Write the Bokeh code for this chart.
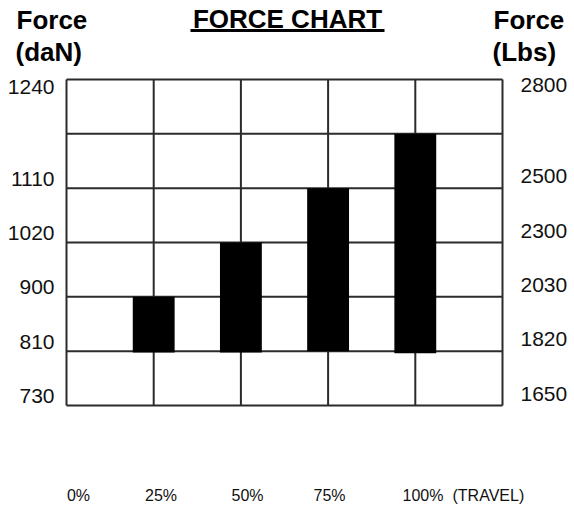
import numpy as np
from bokeh.plotting import figure
from bokeh.models import Range1d
from bokeh.core.properties import value
from bokeh.embed import file_html
from bokeh.resources import INLINE

# ---- data ----
daN_levels = [730, 810, 900, 1020, 1110, 1175, 1240]
daN_labels = ["730", "810", "900", "1020", "1110", "", "1240"]
lbs_labels = ["1650", "1820", "2030", "2300", "2500", "", "2800"]
travel_grid = [0, 25, 50, 75, 100, 125]
travel = [25, 50, 75, 100]
force_top = [900, 1020, 1110, 1175]
force_bottom = [808, 808, 810, 807]
travel_labels = ["0%", "25%", "50%", "75%"]

FONT = "Liberation Sans"
W, H = 574, 505
GL, GT, GR, GB = 66, 79, 502, 405  # grid box in page px
NL = len(daN_levels) - 1
K = NL / (GB - GT)  # levels per pixel


def X(px):
    return (px - GL) / (GR - GL) * travel_grid[-1]


def Y(py):
    return (GB - py) * K


p = figure(width=W, height=H, output_backend="svg", toolbar_location=None,
           x_axis_type=None, y_axis_type=None,
           x_range=Range1d(X(0), X(W)), y_range=Range1d(Y(H), Y(0)),
           min_border=0, min_border_left=0, min_border_right=0,
           min_border_top=0, min_border_bottom=0,
           outline_line_color=None,
           background_fill_color="white", border_fill_color="white")

GRID_C = "#2b2b2b"
# vertical grid lines
p.segment(x0=travel_grid, x1=travel_grid, y0=[0] * len(travel_grid), y1=[NL] * len(travel_grid),
          line_color=GRID_C, line_width=2)
# horizontal grid lines
lv = list(range(NL + 1))
p.segment(x0=[travel_grid[0]] * len(lv), x1=[travel_grid[-1]] * len(lv), y0=lv, y1=lv,
          line_color=GRID_C, line_width=2)

# bars
lvl = np.arange(len(daN_levels))
tops = np.interp(force_top, daN_levels, lvl)
bottoms = np.interp(force_bottom, daN_levels, lvl)
p.vbar(x=travel, width=12, top=tops, bottom=bottoms,
       fill_color="black", line_color=None)

# tick labels
ly, lt, ry, rt = [], [], [], []
for i, (a, b) in enumerate(zip(daN_labels, lbs_labels)):
    if not a:
        continue
    top = (i == NL)
    ly.append(i + (-7.5 if top else 9.5) * K)
    lt.append(a)
    ry.append(i + (-5.5 if top else 12) * K)
    rt.append(b)
p.text(x=[X(54)] * len(ly), y=ly, text=lt, text_align="right", text_baseline="middle",
       text_font=value(FONT), text_font_size=value("21px"), text_color="#111")
p.text(x=[X(520)] * len(ry), y=ry, text=rt, text_align="left", text_baseline="middle",
       text_font=value(FONT), text_font_size=value("21px"), text_color="#111")

# headers
p.text(x=[X(16), X(15), X(493), X(492)], y=[Y(19), Y(51.5), Y(19), Y(51.5)],
       text=["Force", "(daN)", "Force", "(Lbs)"], text_align="left",
       text_baseline="middle", text_font=value(FONT), text_font_size=value("26px"),
       text_font_style="bold", text_color="black")
p.text(x=[X(287)], y=[Y(18)], text=["FORCE CHART"], text_align="center",
       text_baseline="middle", text_font=value(FONT), text_font_size=value("26px"),
       text_font_style="bold", text_color="black")
p.segment(x0=[X(190)], x1=[X(384)], y0=[Y(30)], y1=[Y(30)], line_color="black", line_width=3)

# travel labels
p.text(x=[X(c) for c in [78, 160.5, 247, 329]], y=[Y(495)] * 4, text=travel_labels,
       text_align="center", text_baseline="middle", text_font=value(FONT),
       text_font_size=value("16px"), text_color="#111")
p.text(x=[X(402), X(452)], y=[Y(495)] * 2, text=["100%", "(TRAVEL)"],
       text_align="left", text_baseline="middle", text_font=value(FONT),
       text_font_size=value("16px"), text_color="#111")

open("out.html", "w").write(file_html(p, INLINE))
